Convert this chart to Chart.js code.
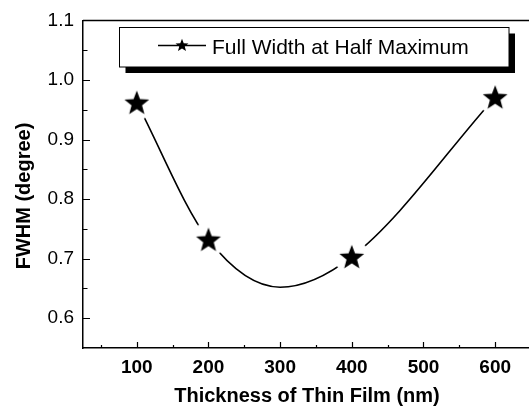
<!DOCTYPE html>
<html><head><meta charset="utf-8">
<script src="https://cdn.jsdelivr.net/npm/chart.js@4"></script>
<style>html,body{margin:0;padding:0;overflow:hidden;background:#fff;width:529px;height:409px}</style>
</head><body>
<canvas id="c" width="545" height="409" style="display:block"></canvas>
<script>
// measured data (stars)
const thickness = [100, 200, 400, 600];
const fwhm = [0.962, 0.732, 0.703, 0.971];
// points (incl. its minimum)
const curveThickness = [100, 200, 300, 400, 600];
const curveFwhm = [0.962, 0.732, 0.652, 0.703, 0.971];
// tick labels
const xTickLabels = [100, 200, 300, 400, 500, 600];
const yTickLabels = [0.6, 0.7, 0.8, 0.9, 1.0, 1.1];
const seriesLabel = 'Full Width at Half Maximum';
const xTitle = 'Thickness of Thin Film (nm)';
const yTitle = 'FWHM (degree)';

const FONT = "'Liberation Sans', Arial, sans-serif";

function starPath(ctx, cx, cy, R, r) {
  ctx.beginPath();
  for (let i = 0; i < 10; i++) {
    const rad = i % 2 === 0 ? R : r;
    const a = -Math.PI / 2 + i * Math.PI / 5;
    const px = cx + rad * Math.cos(a), py = cy + rad * Math.sin(a);
    if (i === 0) ctx.moveTo(px, py); else ctx.lineTo(px, py);
  }
  ctx.closePath();
}

// star marker with white halo (gap between curve and symbol)
const starImg = document.createElement('canvas');
starImg.width = 40; starImg.height = 40;
(function () {
  const g = starImg.getContext('2d');
  g.fillStyle = '#fff';
  g.beginPath(); g.arc(20, 20, 17.5, 0, Math.PI * 2); g.fill();
  g.fillStyle = '#000';
  starPath(g, 20, 21, 13, 5.5);
  g.fill();
})();

const frame = {
  id: 'frame',
  afterDraw(chart) {
    const ctx = chart.ctx, a = chart.chartArea;
    const xs = chart.scales.x, ys = chart.scales.y;
    ctx.save();
    ctx.strokeStyle = '#000';
    ctx.lineWidth = 1.5;
    ctx.beginPath();
    ctx.moveTo(a.left, a.top); ctx.lineTo(a.right, a.top); ctx.lineTo(a.right, a.bottom);
    ctx.stroke();
    ctx.beginPath();
    for (let i = 0; i < xTickLabels.length; i++) {
      const v = xTickLabels[i];
      const p = Math.round(xs.getPixelForValue(v)) + 0.5;
      ctx.moveTo(p, a.bottom); ctx.lineTo(p, a.bottom - 6);
      const m = Math.round(xs.getPixelForValue(v - 50)) + 0.5;
      ctx.moveTo(m, a.bottom); ctx.lineTo(m, a.bottom - 3);
    }
    const mLast = Math.round(xs.getPixelForValue(xTickLabels[xTickLabels.length - 1] + 50)) + 0.5;
    ctx.moveTo(mLast, a.bottom); ctx.lineTo(mLast, a.bottom - 3);
    for (let i = 0; i < yTickLabels.length; i++) {
      const v = yTickLabels[i];
      const p = Math.round(ys.getPixelForValue(v)) + 0.5;
      ctx.moveTo(a.left, p); ctx.lineTo(a.left + 7, p);
      if (i > 0) {
        const m = Math.round(ys.getPixelForValue(v - 0.05)) + 0.5;
        ctx.moveTo(a.left, m); ctx.lineTo(a.left + 4.5, m);
      }
    }
    ctx.lineWidth = 1.2;
    ctx.stroke();

    // y axis title
    ctx.save();
    ctx.translate(24, 196);
    ctx.rotate(-Math.PI / 2);
    ctx.fillStyle = '#000';
    ctx.font = 'bold 20px ' + FONT;
    ctx.textAlign = 'center';
    ctx.textBaseline = 'middle';
    ctx.fillText(yTitle, 0, 0);
    ctx.restore();

    // legend box with shadow
    const L = 119.5, T = 27.5, W = 389.5, H = 39.5, off = 6;
    ctx.fillStyle = '#000';
    ctx.fillRect(L + off, T + off, W, H);
    ctx.fillStyle = '#fff';
    ctx.fillRect(L, T, W, H);
    ctx.lineWidth = 1;
    ctx.strokeStyle = '#000';
    ctx.strokeRect(L, T, W, H);
    ctx.lineWidth = 1.5;
    ctx.beginPath(); ctx.moveTo(158, 45.5); ctx.lineTo(206, 45.5); ctx.stroke();
    ctx.fillStyle = '#000';
    starPath(ctx, 182, 45.5, 6.8, 2.9); ctx.fill();
    ctx.font = '21px ' + FONT;
    ctx.textAlign = 'left';
    ctx.textBaseline = 'alphabetic';
    ctx.fillText(chart.data.datasets[0].label, 212, 53.5);
    ctx.restore();
  }
};

new Chart(document.getElementById('c'), {
  type: 'line',
  data: {
    datasets: [
      {
        label: seriesLabel,
        data: thickness.map((x, i) => ({ x: x, y: fwhm[i] })),
        showLine: false,
        pointStyle: starImg,
        pointRadius: 12,
        pointHoverRadius: 12
      },
      {
        label: 'curve',
        data: curveThickness.map((x, i) => ({ x: x, y: curveFwhm[i] })),
        borderColor: '#000',
        borderWidth: 1.6,
        cubicInterpolationMode: 'monotone',
        pointRadius: 0,
        pointHoverRadius: 0,
        fill: false
      }
    ]
  },
  options: {
    responsive: false,
    animation: false,
    events: [],
    layout: { padding: { top: 17, right: 14, left: 0, bottom: 0 } },
    plugins: { legend: { display: false }, tooltip: { enabled: false } },
    scales: {
      x: {
        type: 'linear', min: 25, max: 650,
        grid: { display: false, drawTicks: false },
        border: { display: true, color: '#000', width: 1.5 },
        afterBuildTicks: s => { s.ticks = xTickLabels.map(v => ({ value: v })); },
        afterFit: s => { s.height = 61; },
        ticks: {
          color: '#000', padding: 8,
          font: { family: FONT, size: 19, weight: 'bold' },
          callback: v => String(v)
        },
        title: {
          display: true, text: xTitle, color: '#000',
          font: { family: FONT, size: 20, weight: 'bold' },
          padding: { top: 0, bottom: 1 }
        }
      },
      y: {
        type: 'linear', min: 0.55, max: 1.1,
        grid: { display: false, drawTicks: false },
        border: { display: true, color: '#000', width: 1.5 },
        afterBuildTicks: s => { s.ticks = yTickLabels.map(v => ({ value: v })); },
        afterFit: s => { s.width = 83; },
        ticks: {
          color: '#000', padding: 9,
          font: { family: FONT, size: 19 },
          callback: v => Number(v).toFixed(1)
        }
      }
    }
  },
  plugins: [frame]
});
</script>
</body></html>
